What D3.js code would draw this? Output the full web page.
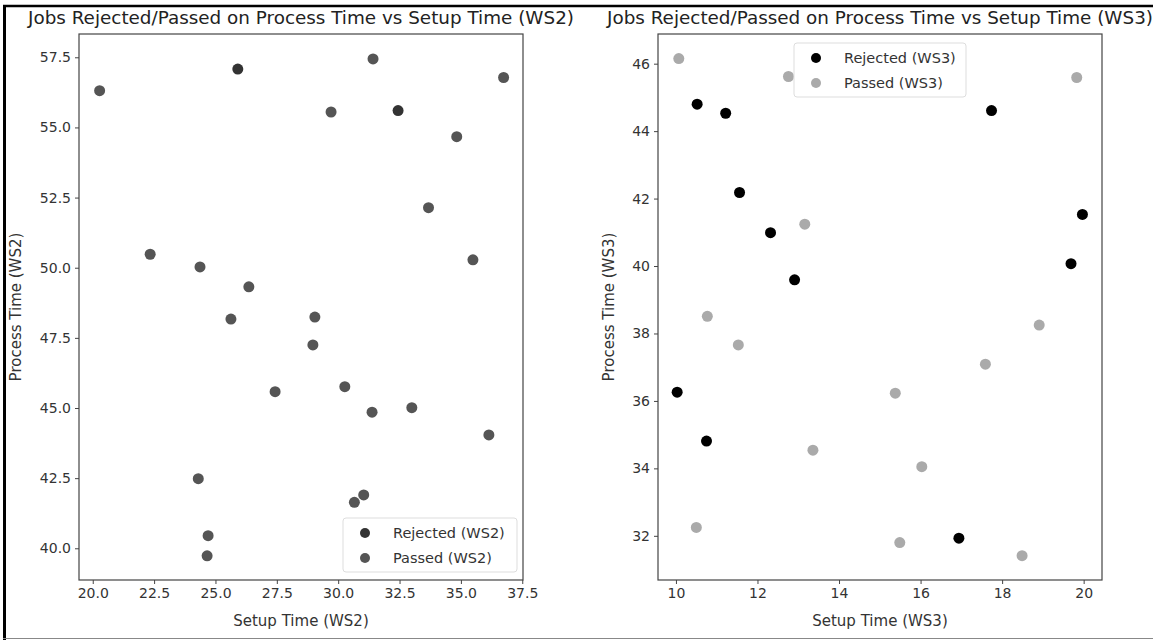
<!DOCTYPE html>
<html><head><meta charset="utf-8">
<script src="https://cdn.jsdelivr.net/npm/d3@7"></script>
<style>
html,body{margin:0;padding:0;background:#fff;}
svg{display:block;font-family:"DejaVu Sans",sans-serif;}
</style></head>
<body>
<svg id="chart" width="1153" height="640"></svg>
<script>
// WS2 data
const ws2RejectedSetup = [25.91, 32.44];
const ws2RejectedProcess = [57.08, 55.60];
const ws2PassedSetup = [20.28, 22.34, 24.37, 26.36, 25.63, 31.42, 36.74, 29.71, 34.83, 33.68, 35.49, 29.05, 28.97, 27.43, 24.30, 24.70, 24.66, 30.27, 31.38, 33.00, 36.14, 31.04, 30.66];
const ws2PassedProcess = [56.31, 50.48, 50.03, 49.32, 48.17, 57.44, 56.78, 55.55, 54.67, 52.14, 50.28, 48.24, 47.25, 45.58, 42.48, 40.45, 39.73, 45.76, 44.85, 45.01, 44.04, 41.90, 41.64];
// WS3 data
const ws3RejectedSetup = [10.52, 11.22, 11.56, 12.32, 12.91, 17.74, 19.97, 19.69, 10.03, 10.75, 16.94];
const ws3RejectedProcess = [44.80, 44.53, 42.18, 40.99, 39.59, 44.61, 41.53, 40.07, 36.26, 34.81, 31.93];
const ws3PassedSetup = [10.07, 12.76, 13.16, 10.77, 19.83, 18.91, 11.53, 13.36, 10.50, 17.59, 15.38, 16.03, 15.49, 18.49];
const ws3PassedProcess = [46.15, 45.62, 41.24, 38.51, 45.59, 38.25, 37.66, 34.54, 32.25, 37.09, 36.23, 34.05, 31.80, 31.41];
// ticks
const ws2XTicks = [20.0, 22.5, 25.0, 27.5, 30.0, 32.5, 35.0, 37.5];
const ws2YTicks = [40.0, 42.5, 45.0, 47.5, 50.0, 52.5, 55.0, 57.5];
const ws3XTicks = [10, 12, 14, 16, 18, 20];
const ws3YTicks = [32, 34, 36, 38, 40, 42, 44, 46];

const svg = d3.select("#chart");

// outer frame
svg.append("line").attr("x1",4.5).attr("x2",4.5).attr("y1",5).attr("y2",640).attr("stroke","#000").attr("stroke-width",3);
svg.append("line").attr("x1",3).attr("x2",1153).attr("y1",6).attr("y2",6).attr("stroke","#000").attr("stroke-width",2.5);
svg.append("line").attr("x1",3).attr("x2",1153).attr("y1",638.5).attr("y2",638.5).attr("stroke","#888").attr("stroke-width",1);

function panel(cfg){
  const {left,right,top,bottom,xDom,yDom,xTicks,yTicks,fmt,rej,pas,rejColor,pasColor,title,xLabel,yLabel,yLabelOff,legend} = cfg;
  const x = d3.scaleLinear().domain(xDom).range([left,right]);
  const y = d3.scaleLinear().domain(yDom).range([bottom,top]);
  const g = svg.append("g");
  const xa = g.append("g").attr("transform",`translate(0,${bottom})`)
    .call(d3.axisBottom(x).tickValues(xTicks).tickFormat(fmt).tickSize(4).tickPadding(4));
  const ya = g.append("g").attr("transform",`translate(${left},0)`)
    .call(d3.axisLeft(y).tickValues(yTicks).tickFormat(fmt).tickSize(4).tickPadding(4));
  [xa,ya].forEach(a=>{
    a.select(".domain").remove();
    a.selectAll("line").attr("stroke","#444");
    a.selectAll("text").attr("fill","#333").style("font-size","14px").style("font-family","DejaVu Sans, sans-serif");
  });
  g.append("rect").attr("x",left).attr("y",top).attr("width",right-left).attr("height",bottom-top)
    .attr("fill","none").attr("stroke","#444").attr("stroke-width",1.2);
  g.selectAll(".rej").data(d3.range(rej[0].length)).enter().append("circle")
    .attr("cx",i=>x(rej[0][i])).attr("cy",i=>y(rej[1][i])).attr("r",5.5).attr("fill",rejColor);
  g.selectAll(".pas").data(d3.range(pas[0].length)).enter().append("circle")
    .attr("cx",i=>x(pas[0][i])).attr("cy",i=>y(pas[1][i])).attr("r",5.5).attr("fill",pasColor);
  const cx = (left+right)/2;
  g.append("text").attr("x",cx).attr("y",24).attr("text-anchor","middle")
    .attr("textLength",546).attr("lengthAdjust","spacingAndGlyphs")
    .style("font-size","18px").attr("fill","#222").text(title);
  g.append("text").attr("x",cx).attr("y",626).attr("text-anchor","middle")
    .style("font-size","15px").attr("fill","#333").text(xLabel);
  g.append("text").attr("transform",`translate(${left-yLabelOff},${(top+bottom)/2}) rotate(-90)`).attr("text-anchor","middle")
    .style("font-size","15px").attr("fill","#333").text(yLabel);
  // legend
  const L = legend;
  const lg = g.append("g");
  lg.append("rect").attr("x",L.x).attr("y",L.y).attr("width",L.w).attr("height",L.h).attr("rx",3)
    .attr("fill","#fff").attr("fill-opacity",0.85).attr("stroke","#ddd");
  [[rejColor,L.labels[0]],[pasColor,L.labels[1]]].forEach((d,i)=>{
    const yy = L.y + 15 + i*25;
    lg.append("circle").attr("cx",L.x+22).attr("cy",yy).attr("r",5).attr("fill",d[0]);
    lg.append("text").attr("x",L.x+50).attr("y",yy+5).style("font-size","14.5px").attr("fill","#333").text(d[1]);
  });
}

panel({left:79,right:523,top:34,bottom:580,xDom:[19.44,37.53],yDom:[38.87,58.33],
  xTicks:ws2XTicks,yTicks:ws2YTicks,fmt:d3.format(".1f"),
  rej:[ws2RejectedSetup,ws2RejectedProcess],pas:[ws2PassedSetup,ws2PassedProcess],
  rejColor:"#333",pasColor:"#555",
  title:"Jobs Rejected/Passed on Process Time vs Setup Time (WS2)",
  xLabel:"Setup Time (WS2)",yLabel:"Process Time (WS2)",yLabelOff:58,
  legend:{x:343,y:518,w:174,h:54,labels:["Rejected (WS2)","Passed (WS2)"]}});

panel({left:658,right:1102,top:34,bottom:580,xDom:[9.56,20.45],yDom:[30.69,46.88],
  xTicks:ws3XTicks,yTicks:ws3YTicks,fmt:d3.format("d"),
  rej:[ws3RejectedSetup,ws3RejectedProcess],pas:[ws3PassedSetup,ws3PassedProcess],
  rejColor:"#000",pasColor:"#aaa",
  title:"Jobs Rejected/Passed on Process Time vs Setup Time (WS3)",
  xLabel:"Setup Time (WS3)",yLabel:"Process Time (WS3)",yLabelOff:44,
  legend:{x:794,y:43,w:172,h:54,labels:["Rejected (WS3)","Passed (WS3)"]}});
</script>
</body></html>
